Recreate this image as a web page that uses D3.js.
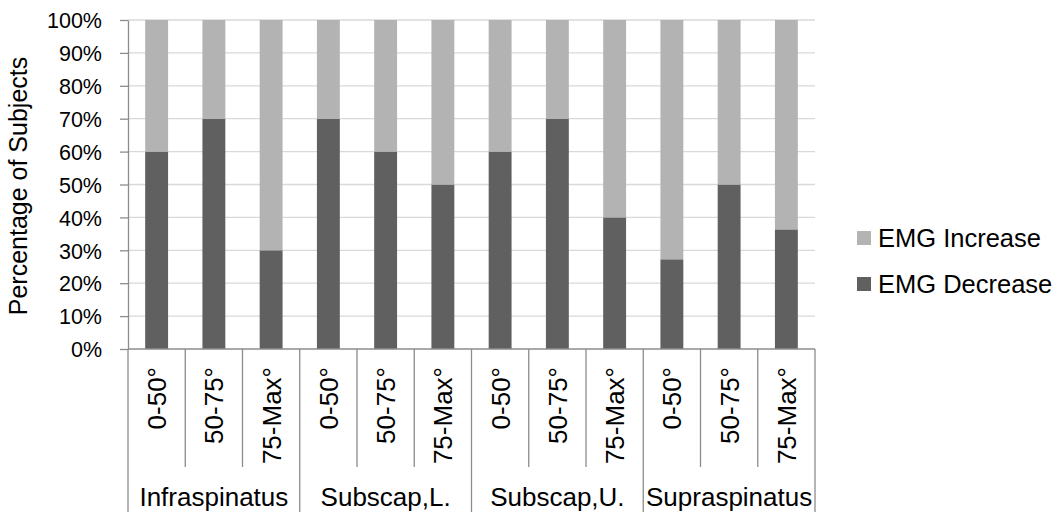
<!DOCTYPE html>
<html>
<head>
<meta charset="utf-8">
<script src="https://cdn.jsdelivr.net/npm/d3@7"></script>
<style>
  html, body { margin: 0; padding: 0; background: #fff; }
  svg { display: block; font-family: "Liberation Sans", Arial, sans-serif; }
</style>
</head>
<body>
<svg id="chart" width="1060" height="513"></svg>
<script>
const groups = ["Infraspinatus", "Subscap,L.", "Subscap,U.", "Supraspinatus"];
const ranges = ["0-50°", "50-75°", "75-Max°"];
const decrease = [60, 70, 30, 70, 60, 50, 60, 70, 40, 27.27, 50, 36.36];
const increase = [40, 30, 70, 30, 40, 50, 40, 30, 60, 72.73, 50, 63.64];
const yTicks = [0, 10, 20, 30, 40, 50, 60, 70, 80, 90, 100];
const seriesNames = ["EMG Increase", "EMG Decrease"];
const colors = { "EMG Decrease": "#606060", "EMG Increase": "#b3b3b3" };

const rows = [];
groups.forEach((g, gi) => ranges.forEach((r, ri) => {
  const i = gi * ranges.length + ri;
  rows.push({ key: g + "|" + r, group: g, range: r, dec: decrease[i], inc: increase[i] });
}));

const svg = d3.select("#chart");
const pL = 128, pR = 815, pT = 20, pB = 349;
const axisColor = "#8c8c8c";

const x = d3.scaleBand().domain(rows.map(d => d.key)).range([pL, pR]).paddingInner(0).paddingOuter(0);
const y = d3.scaleLinear().domain([0, 100]).range([pB, pT]);
const gx = d3.scaleBand().domain(groups).range([pL, pR]);

// gridlines
svg.append("g").selectAll("line").data(yTicks.filter(t => t > 0)).join("line")
  .attr("x1", pL).attr("x2", pR)
  .attr("y1", d => y(d)).attr("y2", d => y(d))
  .attr("stroke", "#d9d9d9").attr("stroke-width", 1.3);

// bars
const bw = x.bandwidth() * 0.4;
const stackData = d3.stack().keys(["dec", "inc"])(rows);
const keyName = { dec: "EMG Decrease", inc: "EMG Increase" };
svg.append("g").selectAll("g").data(stackData).join("g")
  .attr("fill", s => colors[keyName[s.key]])
  .selectAll("rect").data(s => s).join("rect")
  .attr("x", d => x(d.data.key) + (x.bandwidth() - bw) / 2)
  .attr("width", bw)
  .attr("y", d => y(d[1]))
  .attr("height", d => y(d[0]) - y(d[1]));

// y axis
const yAxis = d3.axisLeft(y).tickValues(yTicks).tickFormat(d => d + "%").tickSizeInner(8).tickSizeOuter(0).tickPadding(18);
const yg = svg.append("g").attr("transform", `translate(${pL},0)`).call(yAxis);
yg.select(".domain").attr("stroke", axisColor).attr("stroke-width", 1.3);
yg.selectAll(".tick line").attr("stroke", axisColor).attr("stroke-width", 1.3);
yg.selectAll(".tick text").attr("fill", "#000").style("font-size", "21.5px").attr("dy", "0.36em");

// x axis line
svg.append("line").attr("x1", pL).attr("x2", pR).attr("y1", pB).attr("y2", pB)
  .attr("stroke", axisColor).attr("stroke-width", 1.3);

// inner category separators
svg.append("g").selectAll("line").data(rows.filter((d, i) => i % ranges.length !== 0)).join("line")
  .attr("x1", d => x(d.key)).attr("x2", d => x(d.key))
  .attr("y1", pB).attr("y2", 467)
  .attr("stroke", axisColor).attr("stroke-width", 1.3);

// group separators
const gEdges = groups.map(g => gx(g)).concat([pR]);
svg.append("g").selectAll("line").data(gEdges).join("line")
  .attr("x1", d => d).attr("x2", d => d)
  .attr("y1", pB).attr("y2", 512)
  .attr("stroke", axisColor).attr("stroke-width", 1.3);

// category labels (rotated)
svg.append("g").selectAll("text").data(rows).join("text")
  .attr("transform", d => `translate(${x(d.key) + x.bandwidth() / 2},367) rotate(-90)`)
  .attr("text-anchor", "end").attr("dy", "0.36em")
  .style("font-size", "26px").attr("fill", "#000")
  .text(d => d.range);

// group labels
svg.append("g").selectAll("text").data(groups).join("text")
  .attr("x", d => gx(d) + gx.bandwidth() / 2).attr("y", 506)
  .attr("text-anchor", "middle").style("font-size", "26px").attr("fill", "#000")
  .text(d => d);

// y title
svg.append("text")
  .attr("transform", `translate(27,186) rotate(-90)`)
  .attr("text-anchor", "middle").style("font-size", "25px").attr("fill", "#000")
  .text("Percentage of Subjects");

// legend
const lg = svg.append("g").selectAll("g").data(seriesNames).join("g")
  .attr("transform", (d, i) => `translate(857,${231 + i * 46})`);
lg.append("rect").attr("width", 14).attr("height", 14).attr("fill", d => colors[d]);
lg.append("text").attr("x", 21).attr("y", 7).attr("dy", "0.36em")
  .style("font-size", "25.5px").attr("fill", "#000").text(d => d);
</script>
</body>
</html>
